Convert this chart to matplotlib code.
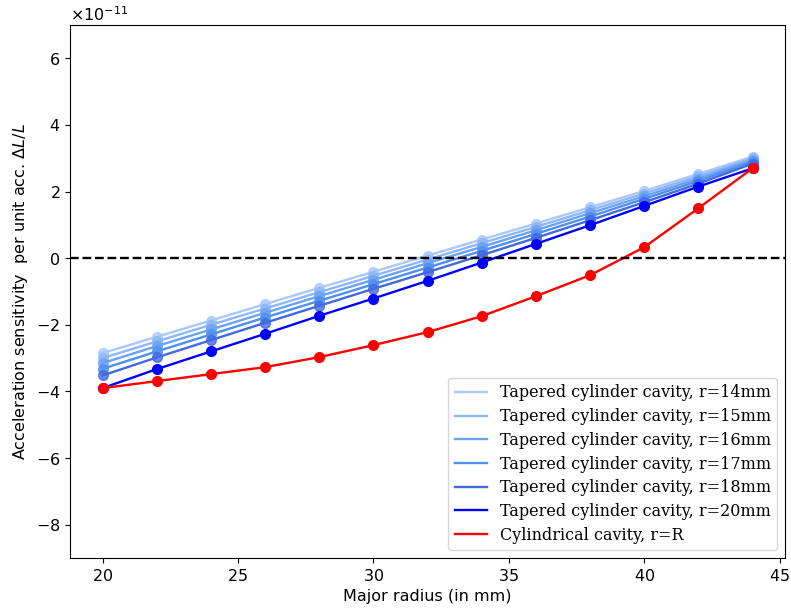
import matplotlib
matplotlib.use("Agg")
import matplotlib.pyplot as plt

major_radius = [20, 22, 24, 26, 28, 30, 32, 34, 36, 38, 40, 42, 44]

# Tapered cylinder cavities (units of 1e-11)
tapered_r14 = [-2.85, -2.36, -1.87, -1.38, -0.89, -0.41, 0.08, 0.56, 1.04, 1.53, 2.02, 2.53, 3.05]
tapered_r15 = [-3.00, -2.50, -2.00, -1.51, -1.02, -0.53, -0.04, 0.45, 0.94, 1.44, 1.94, 2.46, 3.00]
tapered_r16 = [-3.15, -2.64, -2.14, -1.64, -1.14, -0.65, -0.15, 0.34, 0.84, 1.35, 1.86, 2.39, 2.95]
tapered_r17 = [-3.32, -2.80, -2.29, -1.78, -1.28, -0.78, -0.28, 0.22, 0.73, 1.25, 1.78, 2.32, 2.90]
tapered_r18 = [-3.52, -2.98, -2.46, -1.94, -1.43, -0.92, -0.42, 0.09, 0.61, 1.14, 1.68, 2.24, 2.84]
tapered_r20 = [-3.90, -3.33, -2.80, -2.27, -1.73, -1.21, -0.68, -0.13, 0.43, 0.99, 1.57, 2.15, 2.70]
cylindrical = [-3.90, -3.69, -3.48, -3.27, -2.97, -2.61, -2.22, -1.74, -1.14, -0.51, 0.33, 1.50, 2.70]

labels = [
    "Tapered cylinder cavity, r=14mm",
    "Tapered cylinder cavity, r=15mm",
    "Tapered cylinder cavity, r=16mm",
    "Tapered cylinder cavity, r=17mm",
    "Tapered cylinder cavity, r=18mm",
    "Tapered cylinder cavity, r=20mm",
    "Cylindrical cavity, r=R",
]
series = [tapered_r14, tapered_r15, tapered_r16, tapered_r17, tapered_r18, tapered_r20, cylindrical]
colors = ["#a9c8fb", "#8fb6f8", "#6aa2f8", "#4f8ff0", "#4169e1", "#0000ff", "#ff0000"]

plt.rcParams["font.size"] = 11.5
plt.rcParams["axes.formatter.use_mathtext"] = True

fig = plt.figure(figsize=(7.91, 6.10), dpi=100)
ax = fig.add_axes([0.0885, 0.0852, 0.904, 0.8738])

handles = []
for vals, col, lab in zip(series, colors, labels):
    ys = [v * 1e-11 for v in vals]
    line, = ax.plot(major_radius, ys, color=col, lw=1.7, label=lab)
    solid = col in ("#0000ff", "#ff0000")
    ax.plot(major_radius, ys, "o", color=col, ms=7, alpha=1.0 if solid else 0.8)
    handles.append(line)

ax.axhline(0, color="black", ls="--", lw=1.7)
ax.set_ylim(-9e-11, 7e-11)
ax.set_xlabel("Major radius (in mm)")
ax.set_ylabel(r"Acceleration sensitivity  per unit acc. $\Delta L/L$")
ax.legend(handles=handles, loc="lower right", labelspacing=0.42,
          prop={"family": "DejaVu Serif", "size": 11.5})

fig.savefig("out.png", dpi=100)
